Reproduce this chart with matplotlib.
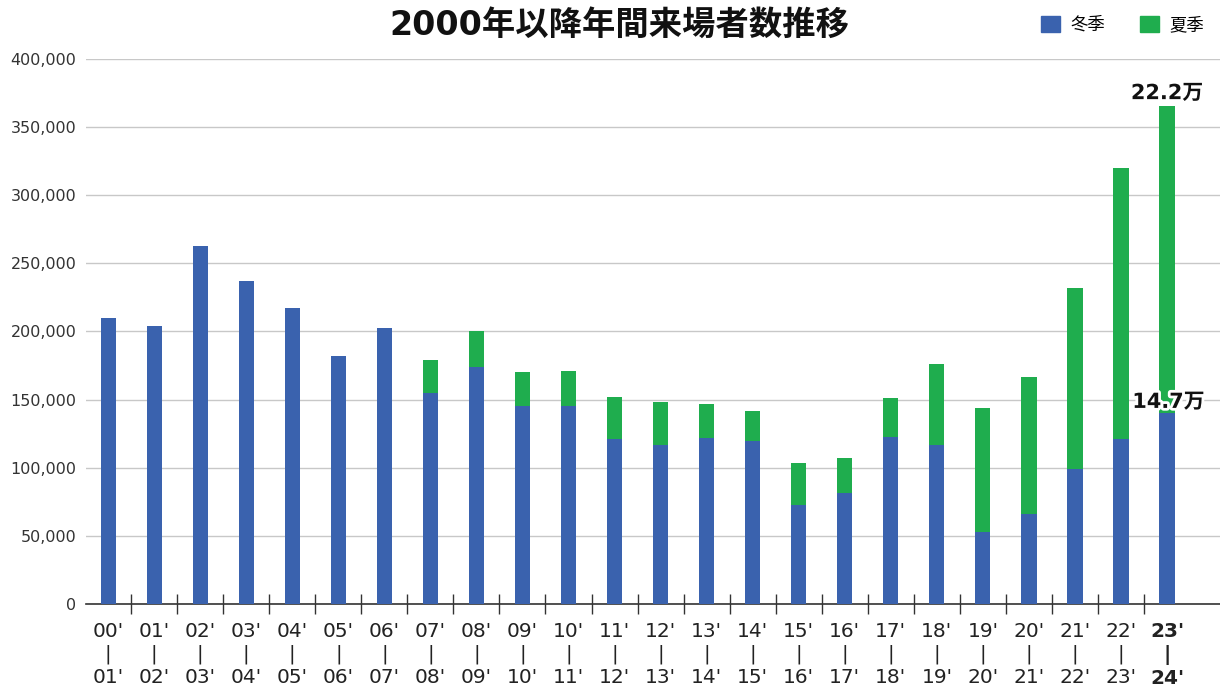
import matplotlib
matplotlib.use("Agg")
import matplotlib.pyplot as plt
import matplotlib.patheffects as pe
from matplotlib.patches import Patch
from matplotlib.ticker import FuncFormatter

FAM = ['DejaVu Sans', 'Noto Sans CJK JP']
plt.rcParams['font.family'] = FAM

seasons_start = ["00'", "01'", "02'", "03'", "04'", "05'", "06'", "07'", "08'", "09'", "10'", "11'",
                 "12'", "13'", "14'", "15'", "16'", "17'", "18'", "19'", "20'", "21'", "22'", "23'"]
seasons_end = ["01'", "02'", "03'", "04'", "05'", "06'", "07'", "08'", "09'", "10'", "11'", "12'",
               "13'", "14'", "15'", "16'", "17'", "18'", "19'", "20'", "21'", "22'", "23'", "24'"]
winter = [210000, 204000, 262500, 237000, 217000, 182000, 202500, 155000, 174000, 145000, 145000, 121000,
          117000, 122000, 120000, 73000, 81500, 122500, 117000, 53000, 66000, 99000, 121000, 140500]
summer = [0, 0, 0, 0, 0, 0, 0, 24000, 26000, 25000, 26000, 31000,
          31000, 25000, 22000, 30500, 25500, 28500, 59000, 91000, 100500, 133000, 199000, 225000]
annot_summer = "22.2万"
annot_winter = "14.7万"

blue = '#3A62AE'
green = '#1FAD4E'

fig = plt.figure(figsize=(12.2, 6.92), dpi=100)
ax = fig.add_axes([0.0705, 0.127, 0.9295, 0.788])

x = list(range(len(winter)))
ax.bar(x, winter, width=0.33, color=blue, zorder=3)
ax.bar(x, summer, width=0.33, bottom=winter, color=green, zorder=3)

ax.set_xlim(-0.48, 24.15)
ax.set_ylim(0, 400000)
ax.set_yticks(range(0, 400001, 50000))
ax.yaxis.set_major_formatter(FuncFormatter(lambda v, p: f"{int(v):,}"))
ax.grid(axis='y', color='#c8c8c8', linewidth=1, zorder=0)
for s in ['top', 'right', 'left']:
    ax.spines[s].set_visible(False)
ax.spines['bottom'].set_color('#333333')
ax.spines['bottom'].set_linewidth(1.2)
ax.tick_params(axis='y', length=0, labelsize=11.5, labelcolor='#333333', pad=7)

labels = [f"{a}\n|\n{b}" for a, b in zip(seasons_start, seasons_end)]
ax.set_xticks(x)
ax.set_xticklabels(labels, fontsize=14.5, linespacing=1.25, color='#222222')
ax.tick_params(axis='x', length=0, pad=13)
ax.get_xticklabels()[-1].set_fontweight('bold')
ax.set_xticks([i + 0.5 for i in x[:-1]], minor=True)
ax.tick_params(axis='x', which='minor', direction='inout', length=14, width=1, color='#333333')

# annotations
last = len(winter) - 1
stroke = [pe.withStroke(linewidth=4, foreground='white')]
ax.text(last, winter[last] + summer[last] + 2000, annot_summer, ha='center', va='bottom',
        fontsize=15, fontweight='bold', color='#111111', path_effects=stroke, zorder=5)
ax.text(last + 0.03, winter[last] + 500, annot_winter, ha='center', va='bottom',
        fontsize=15, fontweight='bold', color='#111111', path_effects=stroke, zorder=5)

fig.text(0.508, 0.963, "2000年以降年間来場者数推移", ha='center', va='center',
         fontsize=24, fontweight='bold', color='#111111')

handles = [Patch(color=blue, label='冬季'), Patch(color=green, label='夏季')]
fig.legend(handles=handles, loc='upper right', bbox_to_anchor=(1.0, 1.0), ncol=2, frameon=False,
           prop={'family': ['Noto Sans CJK JP'], 'size': 12.5},
           handlelength=1.1, handleheight=1.1, columnspacing=2.0, handletextpad=0.6)

fig.savefig('out.png', dpi=100)
